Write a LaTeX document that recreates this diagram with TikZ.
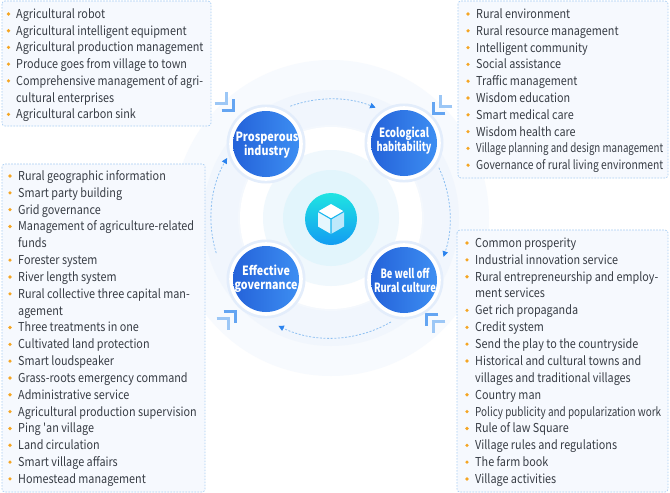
\documentclass[tikz,border=0pt]{standalone}
\usepackage{fontspec}
\newfontfamily\basefont{Noto Sans CJK SC}[FakeStretch=0.88]
\usetikzlibrary{arrows.meta}
\definecolor{boxfill}{HTML}{F6F9FE}
\definecolor{boxline}{HTML}{A9CEF3}
\definecolor{txt}{HTML}{373C44}
\definecolor{dotc}{HTML}{F5A623}
\definecolor{glowA}{HTML}{F7FAFE}
\definecolor{glowB}{HTML}{F1F6FD}
\definecolor{innerA}{HTML}{F0F8FD}
\definecolor{innerB}{HTML}{E2F5FC}
\definecolor{circL}{HTML}{2462D9}
\definecolor{circR}{HTML}{3D8EF2}
\definecolor{halo}{HTML}{E3EDFB}
\definecolor{ringc}{HTML}{8EC0F2}
\definecolor{arrc}{HTML}{2B83EE}
\definecolor{chevA}{HTML}{64A5F2}
\definecolor{chevB}{HTML}{9CC7F6}
\definecolor{cubeT}{HTML}{1FE4E2}
\definecolor{cubeB}{HTML}{129CF2}
\definecolor{faceL}{HTML}{E6F7FE}
\definecolor{faceR}{HTML}{BDE8FB}
\definecolor{gapc}{HTML}{19B6EF}
\tikzset{
  infobox/.style={fill=boxfill,draw=boxline,line width=0.7pt,dash pattern=on 1.6pt off 1.4pt,rounded corners=3pt},
  itemtxt/.style={anchor=base west,inner sep=0pt,text=txt,font=\basefont\fontsize{12.3}{14}\selectfont},
  circtxt/.style={align=center,inner sep=0pt,text=white,font=\basefont\bfseries\fontsize{12.7}{14}\selectfont},
  ringarc/.style={draw=ringc,line width=0.8pt,dash pattern=on 2pt off 1.6pt,-{Triangle[length=5.5pt,width=5.5pt,color=arrc]}},
  chevfront/.style={draw=chevA,line width=3.1pt},
  chevback/.style={draw=chevB,line width=3.1pt},
}
\newcommand\chevpair{%
  \draw[chevback] (-19,-7) -- (-7,-7) -- (-7,-19);
  \draw[chevfront] (-12,0) -- (0,0) -- (0,-12);
}
\newcommand\fitw[2]{\resizebox{#1pt}{\height}{#2}}
\begin{document}
\begin{tikzpicture}[x=1pt,y=-1pt]
\useasboundingbox (0,0) rectangle (670,493);
\fill[white] (0,0) rectangle (670,493);
% background rings
\coordinate (ctr) at (331,218);
\fill[glowA] (ctr) circle (158);
\fill[glowB] (ctr) circle (128);
\fill[halo!40] (ctr) circle (93);
\fill[white] (ctr) circle (91);
\fill[innerA] (ctr) circle (68);
\fill[innerB] (ctr) circle (48);
% boxes
\draw[infobox] (2,1) rectangle (211,126);
\draw[infobox] (458,1) rectangle (668,178);
\draw[infobox] (2,164) rectangle (205,492);
\draw[infobox] (457,230) rectangle (668,492);
% top-left list
\foreach \b/\t [count=\i] in {1/Agricultural robot,1/Agricultural intelligent equipment,1/Agricultural production management,1/Produce goes from village to town,1/Comprehensive management of agri-,0/cultural enterprises,1/Agricultural carbon sink}{
  \pgfmathsetmacro\yy{14+(\i-1)*16.72}
  \node[itemtxt] (tl\i) at (16,\yy+4.4) {\t};
  \ifnum\b=1 \fill[dotc] (8.5,\yy) circle (1.8); \fi
}
% top-right list
\foreach \b/\t [count=\i] in {1/Rural environment,1/Rural resource management,1/Intelligent community,1/Social assistance,1/Traffic management,1/Wisdom education,1/Smart medical care,1/Wisdom health care,1/{\fitw{187}{Village planning and design management}},1/{\fitw{187}{Governance of rural living environment}}}{
  \pgfmathsetmacro\yy{14+(\i-1)*16.8}
  \node[itemtxt] (tr\i) at (476,\yy+4.4) {\t};
  \ifnum\b=1 \fill[dotc] (468,\yy) circle (1.8); \fi
}
% bottom-left list
\foreach \b/\t [count=\i] in {1/Rural geographic information,1/Smart party building,1/Grid governance,1/Management of agriculture-related,0/funds,1/Forester system,1/River length system,1/Rural collective three capital man-,0/agement,1/Three treatments in one,1/Cultivated land protection,1/Smart loudspeaker,1/Grass-roots emergency command,1/Administrative service,1/Agricultural production supervision,1/Ping 'an village,1/Land circulation,1/Smart village affairs,1/Homestead management}{
  \pgfmathsetmacro\yy{176+(\i-1)*16.83}
  \node[itemtxt] (bl\i) at (18,\yy+4.4) {\t};
  \ifnum\b=1 \fill[dotc] (10,\yy) circle (1.8); \fi
}
% bottom-right list
\foreach \b/\t [count=\i] in {1/Common prosperity,1/Industrial innovation service,1/Rural entrepreneurship and employ-,0/ment services,1/Get rich propaganda,1/Credit system,1/Send the play to the countryside,1/Historical and cultural towns and,0/villages and traditional villages,1/Country man,1/{\fitw{186}{Policy publicity and popularization work}},1/Rule of law Square,1/Village rules and regulations,1/The farm book,1/Village activities}{
  \pgfmathsetmacro\yy{243+(\i-1)*16.86}
  \node[itemtxt] (br\i) at (475,\yy+4.4) {\t};
  \ifnum\b=1 \fill[dotc] (467,\yy) circle (1.8); \fi
}
% dashed ring arcs
\draw[ringarc] (ctr) ++(-110:119) arc[start angle=-110,end angle=-68,radius=119];
\draw[ringarc] (ctr) ++(-25:119) arc[start angle=-25,end angle=19,radius=119];
\draw[ringarc] (ctr) ++(60:120) arc[start angle=60,end angle=116,radius=120];
\draw[ringarc] (ctr) ++(163:120) arc[start angle=163,end angle=210,radius=120];
% chevrons
\begin{scope}[shift={(233.6,110.6)}]\chevpair\end{scope}
\begin{scope}[shift={(433.4,113.6)},xscale=-1]\chevpair\end{scope}
\begin{scope}[shift={(235.6,311.4)},yscale=-1]\chevpair\end{scope}
\begin{scope}[shift={(426.4,314.4)},xscale=-1,yscale=-1]\chevpair\end{scope}
% four circles
\foreach \n/\p in {pic/{(266,144)},ehc/{(404,143)},egc/{(266,279)},bwc/{(404,280)}}{
  \fill[halo] \p circle (39.5);
  \fill[white] \p circle (36.8);
  \shade[left color=circL,right color=circR] \p circle (33);
}
\node[circtxt] (pi) at (267,145) {\fitw{63}{Prosperous}\\\fitw{46}{industry}};
\node[circtxt] (eh) at (404,141) {\fitw{50}{Ecological}\\\fitw{55}{habitability}};
\node[circtxt] (eg) at (266,279) {\fitw{48}{Effective}\\\fitw{63}{governance}};
\node[circtxt] (bw) at (405,280) {\fitw{49}{Be well off}\\\fitw{62}{Rural culture}};
% cube icon
\shade[top color=cubeT,bottom color=cubeB] (331,219) circle (26);
\begin{scope}[shift={(331,219)}]
  \fill[white] (0,-15) -- (13,-7.5) -- (0,0) -- (-13,-7.5) -- cycle;
  \fill[faceL] (-13,-7.5) -- (0,0) -- (0,15) -- (-13,7.5) -- cycle;
  \fill[faceR] (13,-7.5) -- (0,0) -- (0,15) -- (13,7.5) -- cycle;
  \draw[gapc,line width=1.1pt] (-13,-7.5) -- (0,0) -- (13,-7.5) (0,0) -- (0,15);
\end{scope}
\end{tikzpicture}
\end{document}
